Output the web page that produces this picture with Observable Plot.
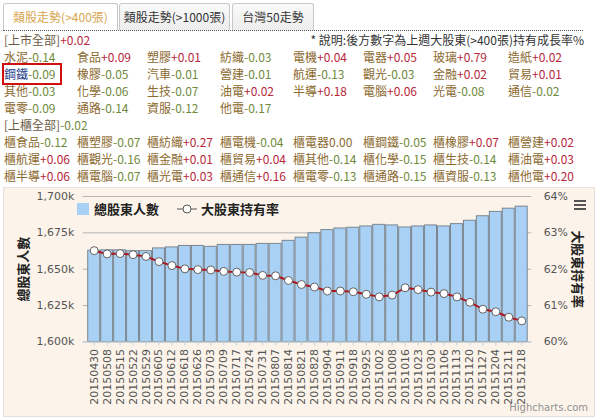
<!DOCTYPE html>
<html><head><meta charset="utf-8">
<script src="https://cdn.jsdelivr.net/npm/d3@7"></script>
<script src="https://cdn.jsdelivr.net/npm/@observablehq/plot@0.6"></script>
<style>
html,body{margin:0;padding:0;background:#fff;width:600px;height:419px;overflow:hidden;font-family:"Noto Sans CJK TC","Noto Sans",sans-serif;}
.abs{position:absolute;white-space:nowrap;}
.tab{position:absolute;top:3px;height:26px;border:1px solid #c9c9c9;border-bottom:none;border-radius:3px 3px 0 0;font-size:12px;line-height:25px;text-align:center;color:#333;background:linear-gradient(#fafafa,#ececec);}
.tab.active{background:#fff;color:#d8a651;}
.cell{position:absolute;font-size:12px;line-height:17px;white-space:nowrap;}
.nm{color:#8c6a30;} .pos{color:#b8283c;} .neg{color:#6f8a3c;} .zero{color:#8c6a30;}
#chart{position:absolute;left:3px;top:187px;width:592px;height:230px;background:#fcf4ea;border:1px solid #e6e0da;box-sizing:border-box;}
</style></head>
<body>
<div class="tab active" style="left:3px;width:113px;">類股走勢(&gt;400張)</div>
<div class="tab" style="left:119px;width:109px;">類股走勢(&gt;1000張)</div>
<div class="tab" style="left:232px;width:80px;">台灣50走勢</div>
<div class="abs" style="left:3px;top:30px;width:580px;border-top:1px dotted #555;"></div>
<div class="abs" style="right:16px;top:31px;font-size:12px;line-height:17px;color:#333;">* 說明:後方數字為上週大股東(&gt;400張)持有成長率%</div>
<div id="table"></div>
<div id="chart"></div>
<script>
// ---- sector table data ----
const listedTotal = 0.02;
const otcTotal = -0.02;
const listedNames = ["水泥","食品","塑膠","紡織","電機","電器","玻璃","造紙",
  "鋼鐵","橡膠","汽車","營建","航運","觀光","金融","貿易",
  "其他","化學","生技","油電","半導","電腦","光電","通信",
  "電零","通路","資服","他電"];
const listedValues = [-0.14,0.09,0.01,-0.03,0.04,0.05,0.79,0.02,
  -0.09,-0.05,-0.01,-0.01,-0.13,-0.03,0.02,0.01,
  -0.03,-0.06,-0.07,0.02,0.18,0.06,-0.08,-0.02,
  -0.09,-0.14,-0.12,-0.17];
const otcNames = ["櫃食品","櫃塑膠","櫃紡織","櫃電機","櫃電器","櫃鋼鐵","櫃橡膠","櫃營建",
  "櫃航運","櫃觀光","櫃金融","櫃貿易","櫃其他","櫃化學","櫃生技","櫃油電",
  "櫃半導","櫃電腦","櫃光電","櫃通信","櫃電零","櫃通路","櫃資服","櫃他電"];
const otcValues = [-0.12,-0.07,0.27,-0.04,0.00,-0.05,0.07,0.02,
  0.06,-0.16,0.01,0.04,-0.14,-0.15,-0.14,0.03,
  0.06,-0.07,0.03,0.16,-0.13,-0.15,-0.13,0.20];

// ---- chart data ----
const dates = ["20150430","20150508","20150515","20150522","20150529","20150605","20150612","20150618","20150626","20150703","20150709","20150717","20150724","20150731","20150807","20150814","20150821","20150828","20150904","20150911","20150918","20150925","20151002","20151008","20151016","20151023","20151030","20151106","20151113","20151120","20151127","20151204","20151211","20151218"];
const holdersK = [1662.7,1663.0,1663.0,1662.4,1662.4,1664.3,1665.0,1666.0,1666.0,1665.4,1666.7,1666.7,1666.7,1667.4,1667.4,1669.5,1671.7,1674.7,1676.9,1678.0,1678.5,1679.4,1680.5,1680.1,1678.7,1679.4,1680.1,1679.4,1681.0,1683.3,1686.4,1689.4,1691.6,1693.0];
const majorPct = [62.51,62.42,62.43,62.40,62.35,62.21,62.10,62.01,61.99,61.98,61.94,61.92,61.91,61.83,61.82,61.69,61.58,61.51,61.40,61.40,61.38,61.31,61.24,61.29,61.49,61.44,61.37,61.33,61.24,61.09,60.90,60.83,60.68,60.58];
const leftTicks = [1600,1625,1650,1675,1700];
const rightTicks = [60,61,62,63,64];

// ---- table ----
const colX = [4,77,147,220,293,363,433,508];
const fmt = v => v > 0 ? "+" + v.toFixed(2) : v < 0 ? "-" + Math.abs(v).toFixed(2) : v.toFixed(2);
const cls = v => v > 0 ? "pos" : v < 0 ? "neg" : "zero";
let html = "";
html += `<div class="cell" style="left:4px;top:31px;"><span style="color:#6b5a45">[上市全部]</span><span class="${cls(listedTotal)}">${fmt(listedTotal)}</span></div>`;
listedNames.forEach((n,i) => {
  const r = Math.floor(i/8), c = i%8;
  const top = 48 + r*17;
  const nmStyle = n === "鋼鐵" ? ' style="color:#1d3c8c"' : '';
  html += `<div class="cell" style="left:${colX[c]}px;top:${top}px;"><span class="nm"${nmStyle}>${n}</span><span class="${cls(listedValues[i])}">${fmt(listedValues[i])}</span></div>`;
});
html += `<div class="abs" style="left:2px;top:63px;width:56px;height:18px;border:2px solid #d01010;"></div>`;
html += `<div class="cell" style="left:4px;top:116px;"><span style="color:#6b5a45">[上櫃全部]</span><span class="${cls(otcTotal)}">${fmt(otcTotal)}</span></div>`;
otcNames.forEach((n,i) => {
  const r = Math.floor(i/8), c = i%8;
  const top = 133 + r*17;
  html += `<div class="cell" style="left:${colX[c]}px;top:${top}px;"><span class="nm">${n}</span><span class="${cls(otcValues[i])}">${fmt(otcValues[i])}</span></div>`;
});
document.getElementById("table").innerHTML = html;

// ---- chart ----
const data = dates.map((d,i) => ({date:d, holders:holdersK[i], pct:majorPct[i]}));
const pctToY = p => 1600 + (p - 60) * 25;
const chart = Plot.plot({
  width: 592, height: 232,
  marginLeft: 80, marginRight: 62, marginTop: 9, marginBottom: 77,
  style: {background: "transparent", fontFamily: "DejaVu Sans, sans-serif", fontSize: "11px", color: "#555"},
  x: {domain: dates, paddingInner: 0.1, paddingOuter: 0.05},
  y: {domain: [1600, 1700]},
  marks: [
    Plot.gridY(leftTicks, {stroke: "#b4b4b4", strokeOpacity: 1, strokeWidth: 1}),
    Plot.barY(data, {x: "date", y1: () => 1600, y2: "holders", fill: "#a9d1f5", stroke: "#7a8590", strokeWidth: 1}),
    Plot.ruleY([1600], {stroke: "#c0d0e0"}),
    Plot.line(data, {x: "date", y: d => pctToY(d.pct), stroke: "#b0161c", strokeWidth: 2, curve: "linear"}),
    Plot.dot(data, {x: "date", y: d => pctToY(d.pct), r: 4, fill: "#fff", stroke: "#606060", strokeWidth: 1}),
    Plot.axisY(leftTicks, {anchor: "left", tickSize: 0, tickPadding: 9, label: null, tickFormat: d => d3.format(",")(d) + "k", fill: "#555"}),
    Plot.axisY(leftTicks, {anchor: "right", tickSize: 0, tickPadding: 12, label: null, tickFormat: d => (60 + (d - 1600) / 25) + "%", fill: "#555"}),
    Plot.axisX({tickSize: 4, tickPadding: 3, tickRotate: -90, label: null, stroke: "#c0d0e0", fill: "#555"}),
    Plot.text(["總股東人數"], {frameAnchor: "left", textAnchor: "middle", dx: -60, rotate: -90, fontSize: 13, fill: "#222", fontFamily: "Noto Sans CJK TC", fontWeight: "bold"}),
    Plot.text(["大股東持有率"], {frameAnchor: "right", textAnchor: "middle", dx: 46, rotate: 90, fontSize: 13, fill: "#222", fontFamily: "Noto Sans CJK TC", fontWeight: "bold"})
  ]
});
chart.style.position = "absolute";
chart.style.left = "-1px";
chart.style.top = "-1px";
const holder = document.getElementById("chart");
holder.appendChild(chart);

// legend overlay
const leg = document.createElement("div");
leg.className = "abs";
leg.style.cssText = "left:73px;top:11px;font-size:13px;font-weight:bold;color:#222;display:flex;align-items:center;font-family:'Noto Sans CJK TC';";
leg.innerHTML = `<span style="display:inline-block;width:12px;height:12px;background:#a9d1f5;margin-right:5px;"></span><span>總股東人數</span>
<svg width="22" height="12" style="margin-left:17px;margin-right:3px"><line x1="1" y1="6" x2="21" y2="6" stroke="#555" stroke-width="1"/><circle cx="11" cy="6" r="4" fill="#fff" stroke="#555"/></svg><span>大股東持有率</span>`;
holder.appendChild(leg);

// menu icon
const menu = document.createElement("div");
menu.className = "abs";
menu.style.cssText = "left:570px;top:12px;width:12px;";
menu.innerHTML = '<div style="height:2px;background:#555;margin-bottom:2px"></div><div style="height:2px;background:#555;margin-bottom:2px"></div><div style="height:2px;background:#555"></div>';
holder.appendChild(menu);

const credit = document.createElement("div");
credit.className = "abs";
credit.style.cssText = "right:6px;bottom:3px;font-size:10px;color:#909090;font-family:'DejaVu Sans';";
credit.textContent = "Highcharts.com";
holder.appendChild(credit);
</script>
</body></html>
